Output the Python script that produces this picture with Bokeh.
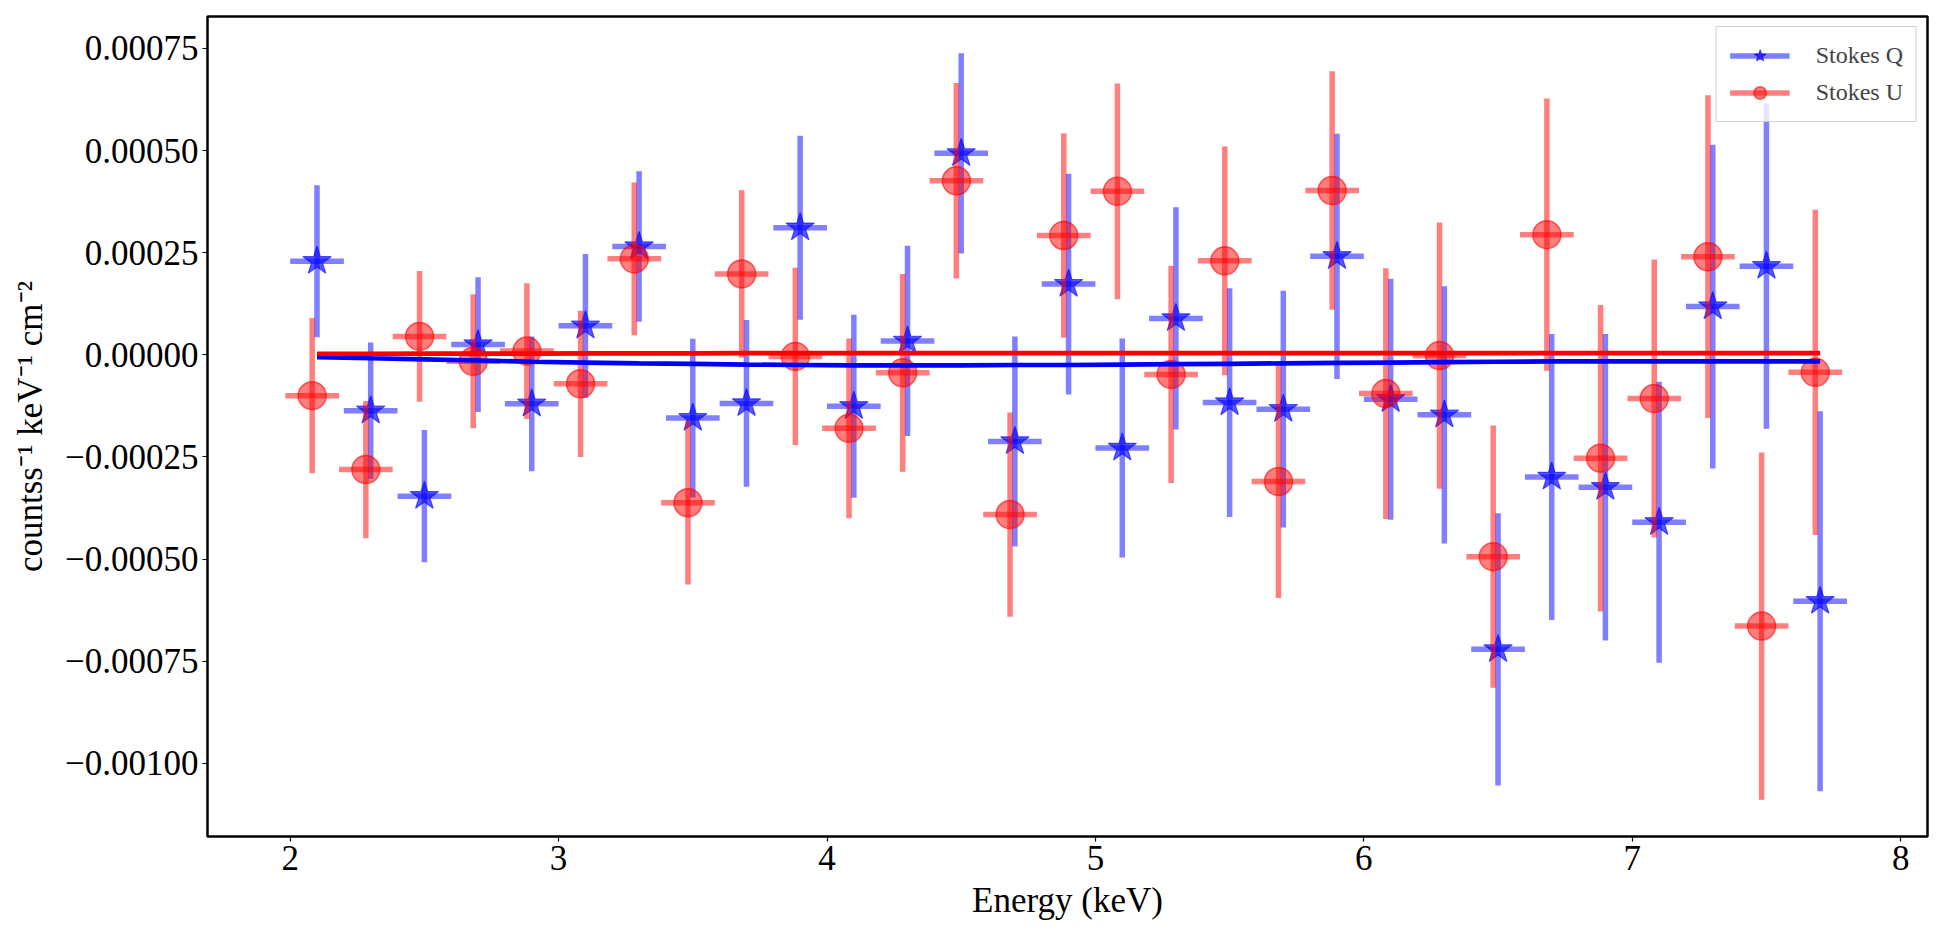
from bokeh.plotting import figure
from bokeh.models import Range1d, FixedTicker, CustomJSTickFormatter, Legend, LegendItem, ColumnDataSource
from bokeh.embed import file_html
from bokeh.resources import INLINE

energy = [2.1, 2.3, 2.5, 2.7, 2.9, 3.1, 3.3, 3.5, 3.7, 3.9, 4.1, 4.3, 4.5, 4.7, 4.9,
          5.1, 5.3, 5.5, 5.7, 5.9, 6.1, 6.3, 6.5, 6.7, 6.9, 7.1, 7.3, 7.5, 7.7]
bin_half = 0.1
u_shift = -0.018

stokes_q = [0.000229, -0.000137, -0.000346, 0.000025, -0.000120, 0.000071, 0.000265, -0.000155,
            -0.000119, 0.000311, -0.000126, 0.000034, 0.000493, -0.000212, 0.000173, -0.000228,
            0.000089, -0.000117, -0.000133, 0.000241, -0.000109, -0.000147, -0.000721, -0.000299,
            -0.000324, -0.000410, 0.000118, 0.000217, -0.000603]
stokes_q_err = [0.000186, 0.000167, 0.000162, 0.000165, 0.000165, 0.000176, 0.000184, 0.000194,
                0.000204, 0.000225, 0.000224, 0.000233, 0.000245, 0.000257, 0.000270, 0.000268,
                0.000272, 0.000280, 0.000290, 0.000300, 0.000295, 0.000315, 0.000333, 0.000350,
                0.000375, 0.000344, 0.000396, 0.000398, 0.000465]

stokes_u = [-0.000100, -0.000281, 0.000045, -0.000016, 0.000009, -0.000071, 0.000235, -0.000362,
            0.000198, -0.000004, -0.000180, -0.000044, 0.000426, -0.000391, 0.000292, 0.000400,
            -0.000048, 0.000230, -0.000310, 0.000402, -0.000095, -0.000002, -0.000494, 0.000294,
            -0.000253, -0.000107, 0.000240, -0.000664, -0.000043]
stokes_u_err = [0.000190, 0.000168, 0.000160, 0.000164, 0.000166, 0.000179, 0.000187, 0.000200,
                0.000205, 0.000217, 0.000220, 0.000242, 0.000239, 0.000250, 0.000250, 0.000264,
                0.000266, 0.000280, 0.000285, 0.000292, 0.000307, 0.000326, 0.000321, 0.000333,
                0.000375, 0.000340, 0.000395, 0.000425, 0.000398]

model_q = [-0.0000055, -0.0000085, -0.000011, -0.000014, -0.000017, -0.000019, -0.000021, -0.000022,
           -0.000024, -0.000025, -0.000026, -0.000026, -0.000026, -0.000025, -0.000025, -0.000024,
           -0.000023, -0.000022, -0.000021, -0.000020, -0.000019, -0.000018, -0.000017, -0.000016,
           -0.000016, -0.000016, -0.000016, -0.000016, -0.000016]
model_u = [0.0000025, 0.0000025, 0.000003, 0.000003, 0.000003, 0.0000035, 0.0000035, 0.0000035,
           0.000004, 0.000004, 0.000004, 0.000004, 0.000004, 0.000004, 0.000004, 0.000004,
           0.000004, 0.000004, 0.000004, 0.000004, 0.000004, 0.000004, 0.000004, 0.000004,
           0.000004, 0.000004, 0.000004, 0.000004, 0.000004]

y_ticks = [-0.001, -0.00075, -0.0005, -0.00025, 0.0, 0.00025, 0.0005, 0.00075]
x_ticks = [2, 3, 4, 5, 6, 7, 8]

FONT = "Liberation Serif"

p = figure(width=1941, height=934, output_backend="svg", toolbar_location=None,
           x_range=Range1d(1.692, 8.10), y_range=Range1d(-0.001179, 0.000828),
           min_border_left=207, min_border_right=14, min_border_top=16, min_border_bottom=98)
p.background_fill_color = "white"
p.border_fill_color = "white"
p.grid.visible = False
p.outline_line_color = "black"
p.outline_line_width = 2.5
p.outline_line_alpha = 1.0

def series(xs, ys, es, shift):
    xc = [x + shift for x in xs]
    return ColumnDataSource(dict(
        x=xc, y=ys,
        xl=[x - bin_half for x in xc], xr=[x + bin_half for x in xc],
        yl=[y - e for y, e in zip(ys, es)], yh=[y + e for y, e in zip(ys, es)],
    ))

src_q = series(energy, stokes_q, stokes_q_err, 0.0)
src_u = series(energy, stokes_u, stokes_u_err, u_shift)

EW = 5.5
qv = p.segment(x0="x", y0="yl", x1="x", y1="yh", source=src_q, line_color="blue", line_alpha=0.5, line_width=EW)
qh = p.segment(x0="xl", y0="y", x1="xr", y1="y", source=src_q, line_color="blue", line_alpha=0.5, line_width=EW)
qm = p.scatter(x="x", y="y", source=src_q, marker="star", size=30, fill_color="blue", fill_alpha=0.65,
               line_color="blue", line_alpha=0.6, line_width=1.2)

uv = p.segment(x0="x", y0="yl", x1="x", y1="yh", source=src_u, line_color="red", line_alpha=0.5, line_width=EW)
uh = p.segment(x0="xl", y0="y", x1="xr", y1="y", source=src_u, line_color="red", line_alpha=0.5, line_width=EW)
um = p.scatter(x="x", y="y", source=src_u, marker="circle", size=28, fill_color="red", fill_alpha=0.5,
               line_color="red", line_alpha=0.6, line_width=1.5)

p.line(energy, model_q, line_color="blue", line_width=4.7)
p.line(energy, model_u, line_color="red", line_width=4.7)

# axes
p.xaxis.ticker = FixedTicker(ticks=x_ticks)
p.yaxis.ticker = FixedTicker(ticks=y_ticks)
p.yaxis.formatter = CustomJSTickFormatter(code="return (tick < 0 ? '\\u2212' : '') + Math.abs(tick).toFixed(5);")
for ax in (p.xaxis, p.yaxis):
    ax.axis_line_color = None
    ax.major_tick_in = 0
    ax.major_tick_out = 5
    ax.major_tick_line_width = 1.2
    ax.minor_tick_line_color = None
    ax.major_label_text_font = FONT
    ax.major_label_text_font_size = "35px"
    ax.major_label_text_color = "black"
    ax.axis_label_text_font = FONT
    ax.axis_label_text_font_size = "35px"
    ax.axis_label_text_font_style = "normal"
    ax.axis_label_text_color = "black"
p.xaxis.major_label_standoff = 4
p.xaxis.axis_label_standoff = 8
p.yaxis.major_label_standoff = 4
p.yaxis.axis_label_standoff = 12
p.xaxis.axis_label = "Energy (keV)"
p.yaxis.axis_label = "countss\u207b\u00b9 keV\u207b\u00b9 cm\u207b\u00b2"

legend = Legend(items=[LegendItem(label="Stokes Q", renderers=[qh, qm]),
                       LegendItem(label="Stokes U", renderers=[uh, um])],
                location="top_right", margin=10, padding=13, spacing=6,
                glyph_width=60, glyph_height=31, label_standoff=26,
                label_text_font=FONT, label_text_font_size="24px",
                border_line_color="#cccccc", border_line_width=1.2, border_line_alpha=0.9,
                background_fill_color="white", background_fill_alpha=0.8)
p.add_layout(legend)

open("out.html", "w").write(file_html(p, INLINE))
